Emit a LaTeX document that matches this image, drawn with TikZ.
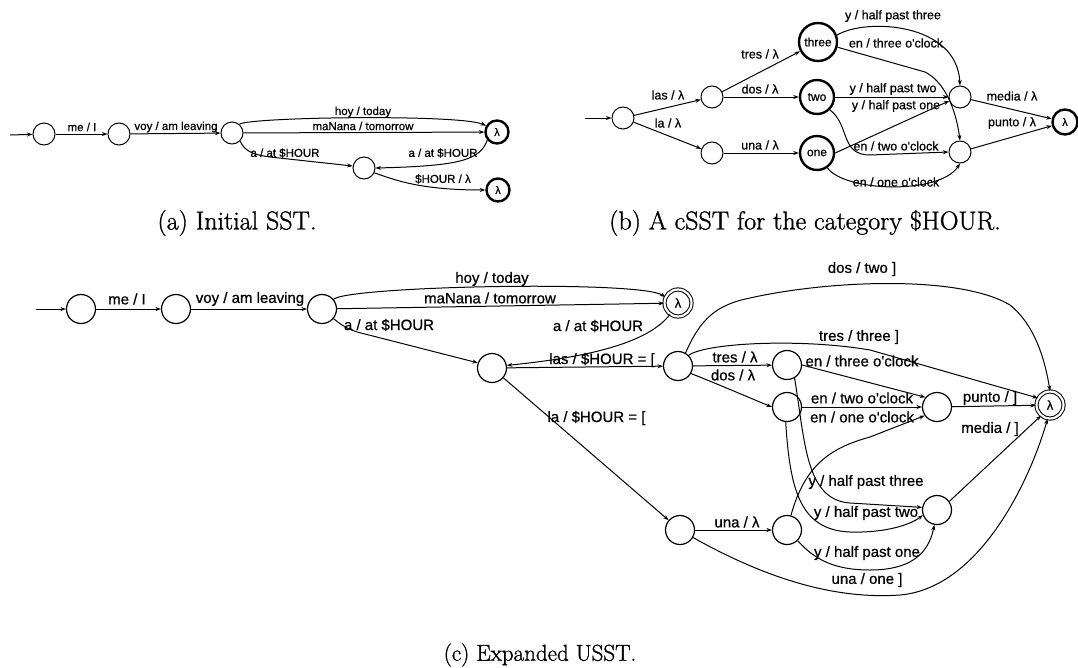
\documentclass[tikz,border=0pt]{standalone}
\usepackage{fontspec}
\newfontfamily\lblfont{Liberation Sans}[FakeBold=0.7]
\newfontfamily\capfont{Latin Modern Roman}[FakeBold=1.2]
\usetikzlibrary{arrows.meta}
\begin{document}
\begin{tikzpicture}[x=1pt,y=-1pt,
  tr/.style={-{Stealth[length=5.5pt,width=4pt]},line width=1pt},
  sa/.style={circle,draw,line width=1pt,minimum size=22pt,inner sep=0pt},
  fa/.style={circle,draw,line width=2.4pt,minimum size=23pt,inner sep=0pt,font=\lblfont\fontsize{11}{11}\selectfont},
  fb/.style={circle,draw,line width=2.4pt,minimum size=34pt,inner sep=0pt,font=\lblfont\fontsize{12}{12}\selectfont},
  sc/.style={circle,draw,line width=1.2pt,minimum size=29pt,inner sep=0pt},
  ac/.style={circle,draw,line width=1pt,double,double distance=2.2pt,minimum size=27pt,inner sep=0pt,font=\lblfont\fontsize{13}{13}\selectfont},
  lA/.style={inner sep=0pt,font=\lblfont\fontsize{11.5}{12}\selectfont},
  lB/.style={inner sep=0pt,font=\lblfont\fontsize{12.5}{13}\selectfont},
  lC/.style={inner sep=0pt,font=\lblfont\fontsize{15}{16}\selectfont},
  captxt/.style={inner sep=0pt,font=\capfont\fontsize{26}{28}\selectfont}]
\useasboundingbox (0,0) rectangle (1078,667);
% ---------------- (a)
\coordinate (ain) at (10,135);
\node[sa] (a0) at (44,134) {};
\node[sa] (a1) at (119,134) {};
\node[sa] (a2) at (232,133) {};
\node[fa] (a3) at (497,132) {λ};
\node[sa] (a4) at (364,168) {};
\node[fa] (a5) at (498,190) {λ};
\draw[tr] (ain) -- (a0);
\draw[tr] (a0) -- (a1) node[lA] at (82,127) {me / I};
\draw[tr] (a1) -- (a2) node[lA] at (176,127) {voy / am leaving};
\draw[tr] (a2.50) .. controls (250,117) and (460,114) .. (a3.150) node[lA] at (363,112) {hoy / today};
\draw[tr] (a2) -- (a3) node[lA] at (363,126) {maNana / tomorrow};
\draw[tr] (a2.-45) .. controls (245,152) and (255,155) .. (270,157) -- (a4.170) node[lA] at (285,153) {a / at \$HOUR};
\draw[tr] (a3.-140) .. controls (480,160) and (460,166) .. (a4.east) node[lA] at (443,153) {a / at \$HOUR};
\draw[tr] (a4.-25) .. controls (395,180) and (420,190) .. (a5.west) node[lA] at (443,179) {\$HOUR / λ};
\node[captxt] (capa) at (237,223) {(a) Initial SST.};
% ---------------- (b)
\coordinate (bin) at (585,118);
\node[sa] (b0) at (623,118) {};
\node[sa] (b1) at (712,97) {};
\node[sa] (b2) at (712,153) {};
\node[fb,minimum size=38pt] (bth) at (818,42) {three};
\node[fb] (btw) at (817,97) {two};
\node[fb] (bon) at (817,153) {one};
\node[sa] (bm1) at (960,97) {};
\node[sa] (bm2) at (960,152) {};
\node[fa,minimum size=25pt] (bl) at (1065,122) {λ};
\draw[tr] (bin) -- (b0);
\draw[tr] (b0) -- (b1) node[lB] at (668,95) {las / λ};
\draw[tr] (b0) -- (b2) node[lB] at (668,123) {la / λ};
\draw[tr] (b1) -- (bth) node[lB] at (760,54) {tres / λ};
\draw[tr] (b1) -- (btw) node[lB] at (760,89) {dos / λ};
\draw[tr] (b2) -- (bon) node[lB] at (760,145) {una / λ};
\draw[tr] (bth.20) .. controls (865,18) and (957,22) .. (bm1.north) node[lB] at (893,16) {y / half past three};
\draw[tr] (bth.-15) -- (925,72) .. controls (945,82) and (956,110) .. (bm2.north) node[lB] at (896,43) {en / three o'clock};
\draw[tr] (btw) -- (bm1) node[lB] at (893,89) {y / half past two};
\draw[tr] (bon.east) -- (bm1.200) node[lB] at (896,106) {y / half past one};
\draw[tr] (btw.-45) .. controls (850,125) and (840,155) .. (870,155) -- (bm2.west) node[lB] at (896,146) {en / two o'clock};
\draw[tr] (bon.-55) .. controls (845,192) and (940,195) .. (bm2.south) node[lB] at (896,182) {en / one o'clock};
\draw[tr] (bm1) -- (bl) node[lB] at (1012,96) {media / λ};
\draw[tr] (bm2) -- (bl) node[lB] at (1012,123) {punto / λ};
\node[captxt] (capb) at (805,223) {(b) A cSST for the category \$HOUR.};
% ---------------- (c)
\coordinate (cin) at (36,309);
\node[sc] (c0) at (81,309) {};
\node[sc] (c1) at (176,309) {};
\node[sc] (c2) at (322,309) {};
\node[ac] (cL) at (678,303) {λ};
\node[sc] (cA) at (492,368) {};
\node[sc] (c3) at (678,366) {};
\node[sc] (c4) at (680,530) {};
\node[sc] (cT) at (787,365) {};
\node[sc] (cD) at (787,407) {};
\node[sc] (cM) at (937,407) {};
\node[ac] (cF) at (1050,405) {λ};
\node[sc] (cH) at (937,510) {};
\node[sc] (cU) at (787,530) {};
\draw[tr] (cin) -- (c0);
\draw[tr] (c0) -- (c1) node[lC] at (127,299) {me / I};
\draw[tr] (c1) -- (c2) node[lC] at (250,299) {voy / am leaving};
\draw[tr] (c2.40) .. controls (348,286) and (640,280) .. (cL.155) node[lC] at (492,279) {hoy / today};
\draw[tr] (c2) -- (cL) node[lC] at (490,298) {maNana / tomorrow};
\draw[tr] (c2.-40) .. controls (345,328) and (352,331) .. (365,334) -- (cA.160) node[lC] at (389,325) {a / at \$HOUR};
\draw[tr] (cL.235) .. controls (650,340) and (600,356) .. (cA.10) node[lC] at (598,326) {a / at \$HOUR};
\draw[tr] (cA) -- (c3) node[lC] at (602,360) {las / \$HOUR = [};
\draw[tr] (cA) -- (c4) node[lC,anchor=west] at (547,418) {la / \$HOUR = [};
\draw[tr] (c3) -- (cT) node[lC] at (735,357) {tres / λ};
\draw[tr] (c3.-30) .. controls (720,385) and (750,398) .. (cD.west) node[lC] at (733,375) {dos / λ};
\draw[tr] (c3.45) .. controls (705,343) and (800,338) .. (870,350) -- (cF.150) node[lC] at (859,337) {tres / three ]};
\draw[tr] (c3.60) .. controls (700,320) and (715,305) .. (750,298) .. controls (830,280) and (960,275) .. (1010,305) .. controls (1035,325) and (1045,360) .. (cF.north) node[lC] at (862,269) {dos / two ]};
\draw[tr] (cT.east) -- (cM.140) node[lC] at (862,361) {en / three o'clock};
\draw[tr] (cD) -- (cM) node[lC] at (862,398) {en / two o'clock};
\draw[tr] (cU.75) .. controls (805,465) and (830,448) .. (870,437) -- (cM.215) node[lC] at (862,417) {en / one o'clock};
\draw[tr] (cT.-60) .. controls (805,440) and (805,500) .. (850,503) -- (cH.170) node[lC] at (866,482) {y / half past three};
\draw[tr] (cD.-95) .. controls (790,490) and (800,530) .. (850,532) .. controls (885,533) and (910,525) .. (cH.200) node[lC] at (866,513) {y / half past two};
\draw[tr] (cU.-45) .. controls (815,560) and (835,570) .. (870,570) .. controls (920,570) and (930,545) .. (cH.-100) node[lC] at (867,553) {y / half past one};
\draw[tr] (c4) -- (cU) node[lC] at (737,522) {una / λ};
\draw[tr] (c4.-30) .. controls (760,575) and (830,600) .. (900,595) .. controls (980,588) and (1030,480) .. (cF.-100) node[lC] at (867,580) {una / one ]};
\draw[tr] (cM) -- (cF) node[lC] at (990,398) {punto / ]};
\draw[tr] (cH.35) -- (cF.-130) node[lC] at (990,429) {media / ]};
\node[captxt,font=\capfont\fontsize{23}{25}\selectfont] (capc) at (540,655) {(c) Expanded USST.};
\end{tikzpicture}
\end{document}
